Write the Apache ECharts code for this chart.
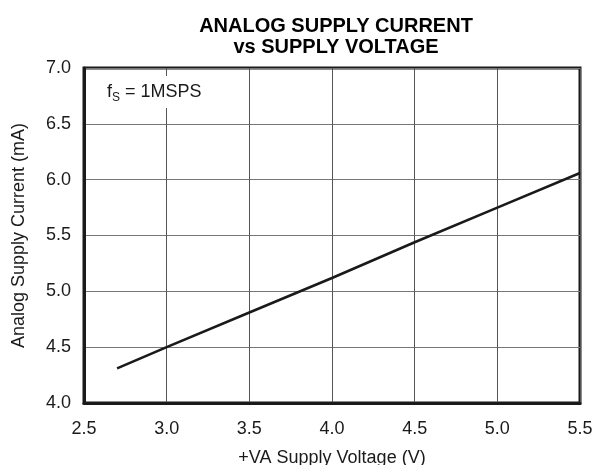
<!DOCTYPE html>
<html>
<head>
<meta charset="utf-8">
<script src="https://cdn.jsdelivr.net/npm/echarts@6/dist/echarts.min.js"></script>
<style>
  html, body { margin: 0; padding: 0; background: #fff; }
  #chart { width: 595px; height: 465px; }
</style>
</head>
<body>
<div id="chart"></div>
<script>
// Supply voltage (V) and analog supply current (mA) at fS = 1MSPS
const voltage = [2.7, 3.0, 3.5, 4.0, 4.5, 5.0, 5.5];
const current = [4.31, 4.50, 4.81, 5.12, 5.44, 5.75, 6.06];

const xTicks = [2.5, 3.0, 3.5, 4.0, 4.5, 5.0, 5.5];
const yTicks = [4.0, 4.5, 5.0, 5.5, 6.0, 6.5, 7.0];

const FONT = '"Liberation Sans", Arial, Helvetica, sans-serif';
const INK = '#1a1a1a';

const chart = echarts.init(document.getElementById('chart'), null, { renderer: 'canvas' });

chart.setOption({
  backgroundColor: '#fff',
  animation: false,
  title: {
    text: 'ANALOG SUPPLY CURRENT\nvs SUPPLY VOLTAGE',
    left: 331,
    textAlign: 'center',
    top: 11,
    textStyle: {
      fontFamily: FONT,
      fontSize: 20,
      fontWeight: 'bold',
      color: '#000',
      lineHeight: 21
    }
  },
  grid: {
    left: 84,
    right: 15,
    top: 68,
    bottom: 62,
    outerBoundsMode: 'none',
    show: true,
    borderColor: INK,
    borderWidth: 3,
    backgroundColor: 'transparent'
  },
  xAxis: {
    type: 'value',
    min: xTicks[0],
    max: xTicks[xTicks.length - 1],
    interval: 0.5,
    name: '+VA Supply Voltage (V)',
    nameLocation: 'middle',
    nameGap: 46,
    nameTextStyle: { fontFamily: FONT, fontSize: 18, color: INK },
    axisLine: { show: true, lineStyle: { color: INK, width: 3 } },
    axisTick: { show: false },
    axisLabel: {
      fontFamily: FONT, fontSize: 18, color: INK, margin: 17,
      formatter: v => v.toFixed(1)
    },
    splitLine: { show: true, lineStyle: { color: '#555', width: 1 } }
  },
  yAxis: {
    type: 'value',
    min: yTicks[0],
    max: yTicks[yTicks.length - 1],
    interval: 0.5,
    name: 'Analog Supply Current (mA)',
    nameLocation: 'middle',
    nameGap: 56,
    nameTextStyle: { fontFamily: FONT, fontSize: 18, color: INK },
    axisLine: { show: true, lineStyle: { color: INK, width: 3 } },
    axisTick: { show: false },
    axisLabel: {
      fontFamily: FONT, fontSize: 18, color: INK, margin: 13,
      formatter: v => v.toFixed(1)
    },
    splitLine: { show: true, lineStyle: { color: '#777', width: 1 } }
  },
  series: [{
    type: 'line',
    data: voltage.map((v, i) => [v, current[i]]),
    showSymbol: false,
    lineStyle: { color: INK, width: 2.6 },
    z: 3
  }],
  graphic: [
    // white panel behind the condition label
    { type: 'rect', left: 100, top: 76, shape: { width: 114, height: 32 },
      style: { fill: '#fff' }, z: 10 },
    { type: 'text', left: 107, top: 83,
      style: { text: 'f', font: '18px ' + FONT, fill: INK }, z: 11 },
    { type: 'text', left: 112, top: 92,
      style: { text: 'S', font: '12px ' + FONT, fill: INK }, z: 11 },
    { type: 'text', left: 125, top: 83,
      style: { text: '= 1MSPS', font: '18px ' + FONT, fill: INK }, z: 11 }
  ]
});
</script>
</body>
</html>
